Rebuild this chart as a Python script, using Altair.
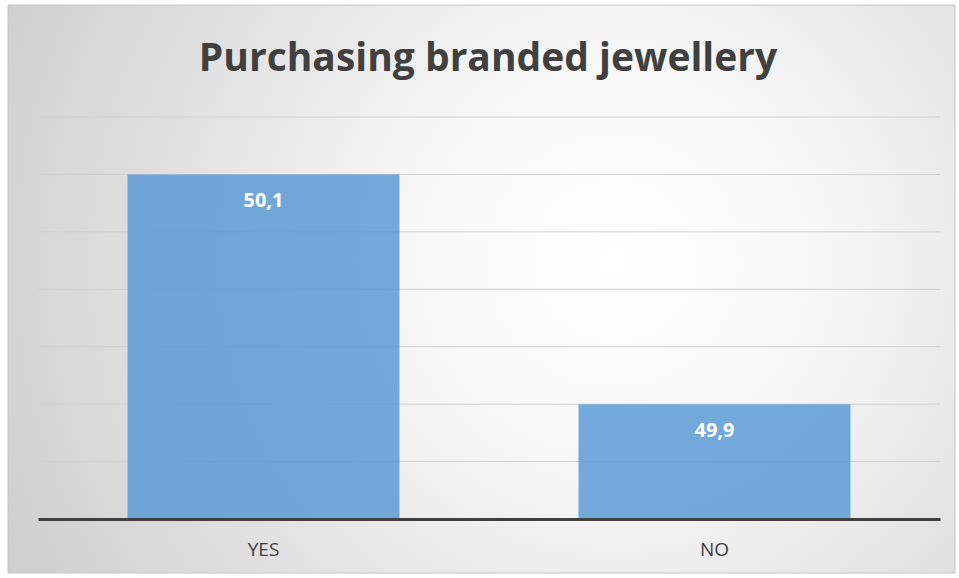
import altair as alt
import pandas as pd

categories = ["YES", "NO"]
values = [50.1, 49.9]
value_labels = ["50,1", "49,9"]
grid_ticks = [49.8, 49.85, 49.9, 49.95, 50.0, 50.05, 50.1, 50.15]
title_text = "Purchasing branded jewellery"

df = pd.DataFrame({"answer": categories, "share": values, "label": value_labels})
grid_df = pd.DataFrame({"tick": grid_ticks[1:]})
one = pd.DataFrame({"t": [title_text]})

W, H = 902, 402
yscale = alt.Scale(domain=[grid_ticks[0], grid_ticks[-1]], zero=False, nice=False)
xscale = alt.Scale(domain=categories, paddingInner=0.397, paddingOuter=0.1985)

grad = alt.RadialGradient(
    gradient="radial",
    x1=0.64, y1=0.47, x2=0.64, y2=0.47, r1=0.0, r2=0.78,
    stops=[
        alt.GradientStop(color="#ffffff", offset=0.0),
        alt.GradientStop(color="#f7f7f7", offset=0.28),
        alt.GradientStop(color="#e0e0e0", offset=0.62),
        alt.GradientStop(color="#c9c9c9", offset=1.0),
    ],
)

background = alt.Chart(one).mark_rect(fill=grad, stroke="#c6c6c6", strokeWidth=1).encode(
    x=alt.value(-30), x2=alt.value(917), y=alt.value(-112), y2=alt.value(456)
)

grid = alt.Chart(grid_df).mark_rule(color="#d0d0d0", strokeWidth=1).encode(
    y=alt.Y("tick:Q", scale=yscale, axis=None),
    x=alt.value(0), x2=alt.value(W),
)

bars = alt.Chart(df).mark_bar(color="#5b9bd5", opacity=0.85).encode(
    x=alt.X("answer:N", scale=xscale, sort=categories,
            axis=alt.Axis(title=None, labelAngle=0, labelFont="Open Sans", labelFontSize=19,
                          labelColor="#404040", labelPadding=21, ticks=False, grid=False,
                          domainColor="#404040", domainWidth=3, zindex=1)),
    y=alt.Y("share:Q", scale=yscale, axis=None),
    y2=alt.datum(grid_ticks[0]),
)

labels = alt.Chart(df).mark_text(
    color="white", font="Open Sans", fontWeight="bold", fontSize=20, baseline="middle", dy=27
).encode(
    x=alt.X("answer:N", scale=xscale, sort=categories),
    y=alt.Y("share:Q", scale=yscale),
    text="label:N",
)

title = alt.Chart(one).mark_text(
    font="Open Sans", fontWeight="bold", fontSize=39, color="#404040", baseline="alphabetic", align="center"
).encode(x=alt.value(450), y=alt.value(-46), text="t:N")

chart = alt.layer(background, grid, bars, labels, title).properties(
    width=W, height=H,
    autosize=alt.AutoSizeParams(type="none"),
    padding={"left": 38, "top": 117, "right": 19, "bottom": 59},
).configure_view(stroke=None).configure(background="white")

chart.save("out.html", embed_options={"renderer": "svg", "actions": False})
